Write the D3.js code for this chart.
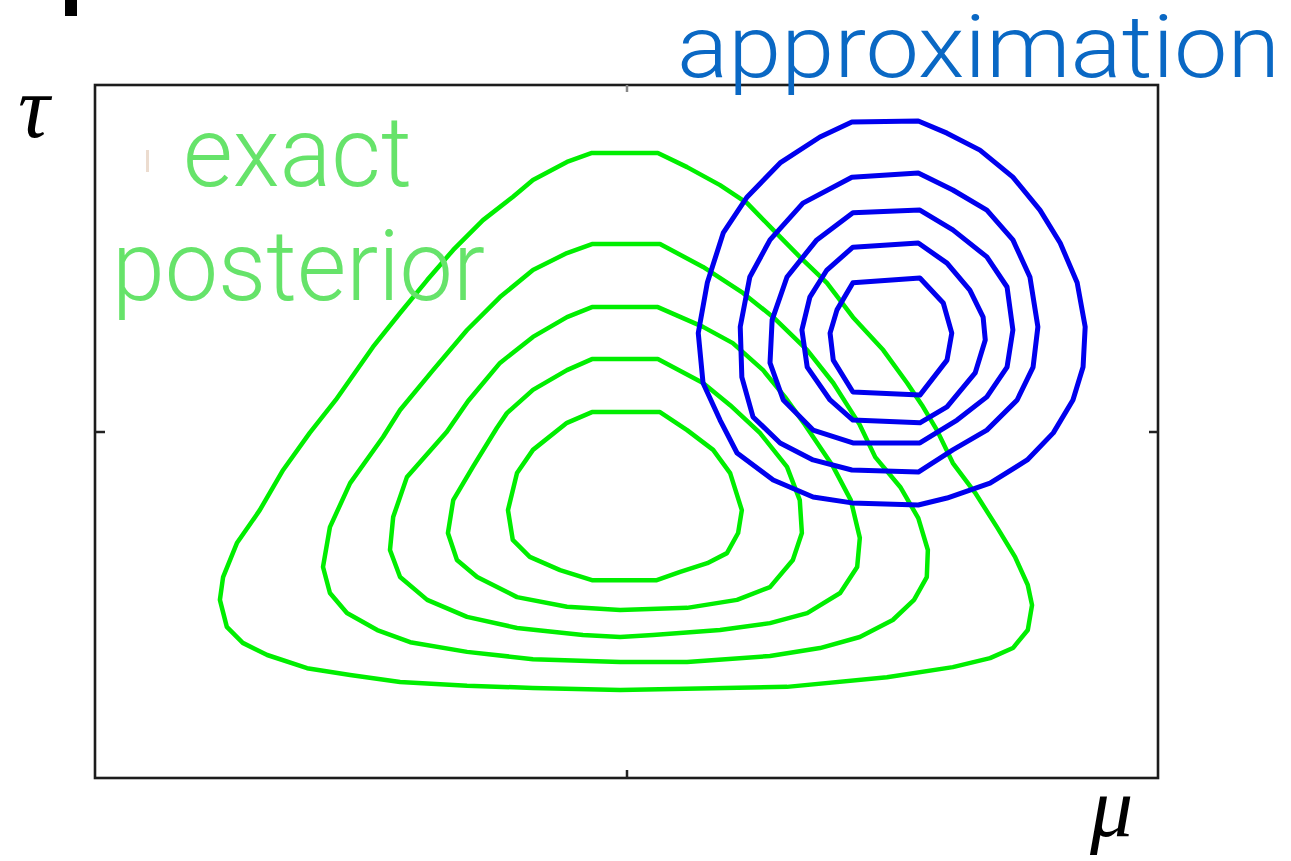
<!DOCTYPE html>
<html>
<head>
<meta charset="utf-8">
<script src="https://cdn.jsdelivr.net/npm/d3@7"></script>
<style>
  html, body { margin: 0; padding: 0; background: #fff; }
  svg { display: block; }
</style>
</head>
<body>
<svg id="chart" width="1291" height="861"></svg>
<script>
// Axis ticks (mean mu, precision tau)
const muTicks = [0];
const tauTicks = [1];

// Exact posterior: contour levels, outermost first, as [mu, tau] vertices
const exactLevel1 = [
  [-0.065,1.804],[0.059,1.804],[0.114,1.763],[0.176,1.711],[0.227,1.659],[0.276,1.582],
  [0.326,1.504],[0.377,1.429],[0.426,1.330],[0.483,1.235],[0.528,1.140],[0.556,1.076],
  [0.584,1.004],[0.614,0.909],[0.656,0.823],[0.697,0.724],[0.731,0.638],[0.755,0.557],
  [0.763,0.499],[0.755,0.427],[0.727,0.375],[0.684,0.346],[0.614,0.320],[0.490,0.291],
  [0.302,0.263],[-0.012,0.254],[-0.176,0.260],[-0.300,0.266],[-0.426,0.277],[-0.520,0.297],
  [-0.601,0.317],[-0.676,0.355],[-0.722,0.390],[-0.752,0.436],[-0.765,0.514],[-0.759,0.580],
  [-0.733,0.678],[-0.690,0.773],[-0.646,0.889],[-0.596,0.996],[-0.547,1.091],[-0.477,1.244],
  [-0.426,1.342],[-0.375,1.437],[-0.326,1.524],[-0.270,1.610],[-0.214,1.677],[-0.176,1.726],
  [-0.112,1.778]
];
const exactLevel2 = [
  [-0.065,1.541],[0.063,1.541],[0.144,1.475],[0.219,1.400],[0.276,1.330],[0.340,1.235],
  [0.389,1.140],[0.413,1.082],[0.439,1.019],[0.468,0.926],[0.515,0.840],[0.549,0.750],
  [0.567,0.658],[0.565,0.580],[0.541,0.514],[0.501,0.456],[0.439,0.407],[0.364,0.375],
  [0.270,0.352],[0.114,0.335],[-0.012,0.335],[-0.176,0.343],[-0.300,0.364],[-0.407,0.392],
  [-0.469,0.427],[-0.526,0.476],[-0.558,0.534],[-0.571,0.609],[-0.558,0.724],[-0.520,0.851],
  [-0.458,0.984],[-0.426,1.062],[-0.364,1.177],[-0.300,1.293],[-0.238,1.388],[-0.176,1.466],
  [-0.112,1.515]
];
const exactLevel3 = [
  [-0.065,1.359],[0.059,1.359],[0.144,1.302],[0.200,1.255],[0.257,1.177],[0.298,1.100],
  [0.336,1.019],[0.389,0.898],[0.422,0.802],[0.439,0.693],[0.434,0.609],[0.402,0.534],
  [0.340,0.476],[0.270,0.447],[0.176,0.427],[0.050,0.413],[-0.012,0.407],[-0.082,0.413],
  [-0.206,0.433],[-0.300,0.465],[-0.375,0.514],[-0.426,0.580],[-0.445,0.658],[-0.439,0.753],
  [-0.413,0.869],[-0.338,0.999],[-0.298,1.088],[-0.238,1.198],[-0.176,1.273],[-0.112,1.330]
];
const exactLevel4 = [
  [-0.065,1.209],[0.059,1.209],[0.144,1.140],[0.195,1.076],[0.251,0.996],[0.302,0.898],
  [0.326,0.802],[0.330,0.707],[0.313,0.629],[0.270,0.551],[0.208,0.514],[0.114,0.491],
  [-0.012,0.485],[-0.112,0.494],[-0.206,0.522],[-0.281,0.580],[-0.319,0.629],[-0.336,0.707],
  [-0.326,0.802],[-0.289,0.898],[-0.244,1.010],[-0.225,1.053],[-0.176,1.120],[-0.112,1.177]
];
const exactLevel5 = [
  [-0.065,1.056],[0.063,1.056],[0.114,1.004],[0.163,0.947],[0.195,0.880],[0.217,0.773],
  [0.210,0.707],[0.189,0.649],[0.152,0.620],[0.101,0.595],[0.057,0.571],[-0.012,0.571],
  [-0.065,0.571],[-0.125,0.600],[-0.182,0.638],[-0.214,0.687],[-0.223,0.773],[-0.206,0.880],
  [-0.176,0.947],[-0.112,1.025]
];

// Variational approximation: contour levels, outermost first
const approxLevel1 = [
  [0.424,1.893],[0.549,1.896],[0.603,1.861],[0.665,1.812],[0.727,1.734],[0.778,1.639],
  [0.816,1.544],[0.848,1.429],[0.863,1.302],[0.859,1.186],[0.840,1.091],[0.803,0.996],
  [0.754,0.918],[0.684,0.851],[0.603,0.808],[0.549,0.788],[0.424,0.794],[0.351,0.811],
  [0.276,0.860],[0.208,0.938],[0.176,1.033],[0.144,1.140],[0.135,1.284],[0.152,1.429],
  [0.182,1.573],[0.227,1.677],[0.289,1.775],[0.364,1.850]
];
const approxLevel2 = [
  [0.424,1.734],[0.549,1.746],[0.614,1.697],[0.678,1.639],[0.727,1.553],[0.759,1.446],
  [0.774,1.302],[0.765,1.186],[0.735,1.091],[0.678,1.004],[0.614,0.947],[0.549,0.883],
  [0.424,0.889],[0.351,0.918],[0.289,0.967],[0.238,1.042],[0.217,1.157],[0.214,1.302],
  [0.232,1.446],[0.270,1.553],[0.332,1.659]
];
const approxLevel3 = [
  [0.426,1.631],[0.552,1.639],[0.614,1.582],[0.678,1.504],[0.716,1.417],[0.727,1.293],
  [0.716,1.186],[0.678,1.100],[0.622,1.033],[0.552,0.967],[0.426,0.967],[0.351,1.004],
  [0.295,1.091],[0.270,1.198],[0.274,1.322],[0.302,1.446],[0.358,1.553]
];
const approxLevel4 = [
  [0.426,1.532],[0.549,1.544],[0.603,1.486],[0.646,1.408],[0.671,1.330],[0.675,1.264],
  [0.656,1.169],[0.603,1.071],[0.552,1.025],[0.426,1.033],[0.383,1.091],[0.340,1.186],
  [0.330,1.293],[0.345,1.388],[0.377,1.466]
];
const approxLevel5 = [
  [0.426,1.429],[0.552,1.443],[0.596,1.371],[0.612,1.284],[0.603,1.206],[0.552,1.105],
  [0.426,1.114],[0.389,1.206],[0.383,1.284],[0.396,1.351]
];

const exactLevels = [exactLevel1, exactLevel2, exactLevel3, exactLevel4, exactLevel5];
const approxLevels = [approxLevel1, approxLevel2, approxLevel3, approxLevel4, approxLevel5];

const svg = d3.select("#chart");

const x = d3.scaleLinear().domain([-1, 1]).range([95, 1158]);
const y = d3.scaleLinear().domain([0, 2]).range([778, 85]);

const contourLine = d3.line()
  .x(d => x(d[0]))
  .y(d => y(d[1]))
  .curve(d3.curveLinearClosed);

// Stray mark above the plot
svg.append("rect")
  .attr("x", 65).attr("y", 0).attr("width", 12).attr("height", 16)
  .attr("fill", "#000");

// Plot frame
const [x0, x1] = x.range();
const [yb, yt] = y.range();
svg.append("rect")
  .attr("x", x0).attr("y", yt)
  .attr("width", x1 - x0).attr("height", yb - yt)
  .attr("fill", "none")
  .attr("stroke", "#1c1c1c")
  .attr("stroke-width", 2.6);

// Tick marks on all four sides, no labels
const tickStyle = g => {
  g.select(".domain").remove();
  g.selectAll(".tick line").attr("stroke", "#222").attr("stroke-width", 2.5);
  g.selectAll(".tick text").remove();
};
svg.append("g").attr("transform", `translate(0,${yb})`)
  .call(d3.axisBottom(x).tickValues(muTicks).tickSize(-8).tickFormat(""))
  .call(tickStyle);
svg.append("g").attr("transform", `translate(0,${yt})`)
  .call(d3.axisTop(x).tickValues(muTicks).tickSize(-7).tickFormat(""))
  .call(tickStyle)
  .call(g => g.selectAll(".tick line").attr("stroke", "#888"));
svg.append("g").attr("transform", `translate(${x0},0)`)
  .call(d3.axisLeft(y).tickValues(tauTicks).tickSize(-10).tickFormat(""))
  .call(tickStyle);
svg.append("g").attr("transform", `translate(${x1},0)`)
  .call(d3.axisRight(y).tickValues(tauTicks).tickSize(-9).tickFormat(""))
  .call(tickStyle);

// Exact posterior contours
svg.append("g")
  .selectAll("path")
  .data(exactLevels)
  .join("path")
  .attr("d", contourLine)
  .attr("fill", "none")
  .attr("stroke", "#00ee00")
  .attr("stroke-width", 4.5)
  .attr("stroke-linejoin", "round");

// Approximation contours
svg.append("g")
  .selectAll("path")
  .data(approxLevels)
  .join("path")
  .attr("d", contourLine)
  .attr("fill", "none")
  .attr("stroke", "#0000ee")
  .attr("stroke-width", 5)
  .attr("stroke-linejoin", "round");

// Faint mark left of the label
svg.append("rect")
  .attr("x", 146).attr("y", 150).attr("width", 3).attr("height", 22)
  .attr("fill", "#ecdccf");

// Labels
const sans = "'Helvetica Neue', Roboto, 'Liberation Sans', Arial, sans-serif";
svg.append("text")
  .attr("x", 677).attr("y", 77)
  .attr("font-family", sans).attr("font-weight", 300)
  .attr("font-size", 88)
  .attr("textLength", 603).attr("lengthAdjust", "spacingAndGlyphs")
  .attr("fill", "#0a68c4")
  .text("approximation");

svg.append("text")
  .attr("x", 183).attr("y", 186)
  .attr("font-family", sans).attr("font-weight", 300)
  .attr("font-size", 98)
  .attr("textLength", 229).attr("lengthAdjust", "spacingAndGlyphs")
  .attr("fill", "#66e36a")
  .text("exact");

svg.append("text")
  .attr("x", 112).attr("y", 300)
  .attr("font-family", sans).attr("font-weight", 300)
  .attr("font-size", 98)
  .attr("textLength", 373).attr("lengthAdjust", "spacingAndGlyphs")
  .attr("fill", "#66e36a")
  .text("posterior");

const serif = "'Liberation Serif', 'DejaVu Serif', serif";
svg.append("text")
  .attr("x", 18).attr("y", 137)
  .attr("font-family", serif).attr("font-style", "italic")
  .attr("font-size", 88)
  .attr("fill", "#000")
  .text("τ");

svg.append("text")
  .attr("x", 1090).attr("y", 836)
  .attr("font-family", serif).attr("font-style", "italic")
  .attr("font-size", 86)
  .attr("fill", "#000")
  .text("μ");
</script>
</body>
</html>
